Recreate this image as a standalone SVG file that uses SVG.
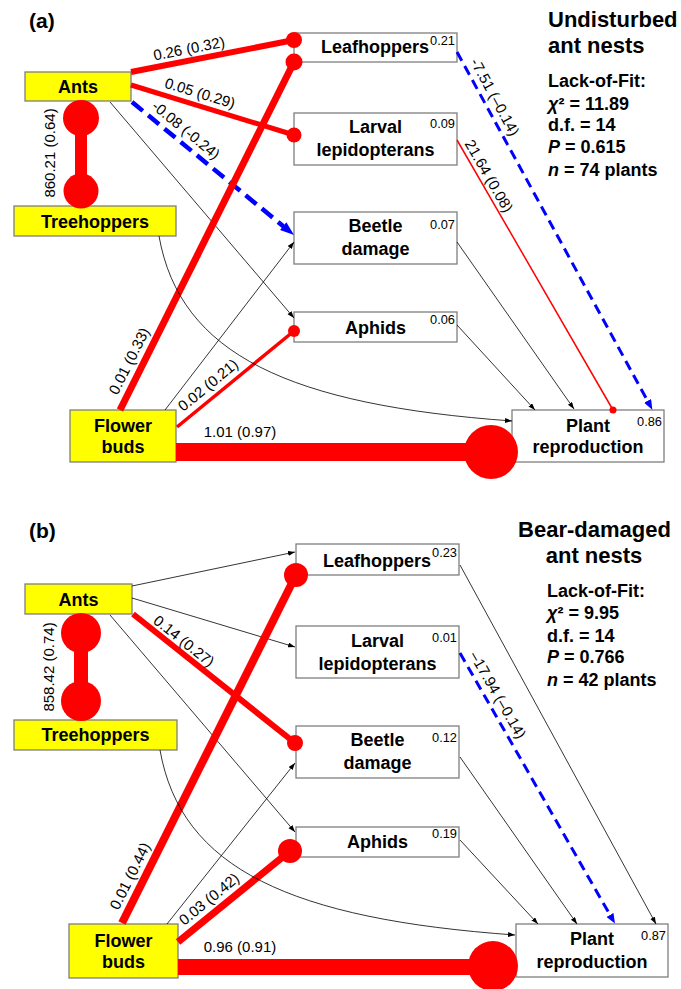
<svg xmlns="http://www.w3.org/2000/svg" width="681" height="989" viewBox="0 0 681 989">
<defs>
<style>
text{font-family:"Liberation Sans",Arial,sans-serif;fill:#000}
.nt{font-size:18px;font-weight:bold;text-anchor:middle}
.r2{font-size:12.8px;text-anchor:end}
.el{font-size:15px;text-anchor:middle}
.ttl{font-size:22px;font-weight:bold}
.fit{font-size:18px;font-weight:bold}
.pl{font-size:21px;font-weight:bold}
.yb{fill:#ffff00;stroke:#7f7f7f;stroke-width:1.3}
.wb{fill:#fff;stroke:#7f7f7f;stroke-width:1.3}
.thin{stroke:#000;stroke-width:0.8;fill:none;marker-end:url(#ab)}
.red{stroke:#ff0000;fill:none}
.dot{fill:#ff0000}
.blue{stroke:#0000ff;fill:none}
</style>
<marker id="ab" markerUnits="userSpaceOnUse" markerWidth="8" markerHeight="6" refX="7" refY="2.5" orient="auto"><path d="M0,0 L7,2.5 L0,5 z" fill="#000"/></marker>
<marker id="bb" markerUnits="userSpaceOnUse" markerWidth="15" markerHeight="11" refX="4" refY="5" orient="auto"><path d="M0,0 L14,5 L0,10 z" fill="#0000ff"/></marker>
<marker id="bs" markerUnits="userSpaceOnUse" markerWidth="12" markerHeight="9" refX="3" refY="4" orient="auto"><path d="M0,0 L10,4 L0,8 z" fill="#0000ff"/></marker>
</defs>
<rect width="681" height="989" fill="#fff"/>

<!-- Panel (a) -->
<text class="pl" x="29" y="28">(a)</text>
<text class="ttl" x="548" y="27">Undisturbed</text>
<text class="ttl" x="548" y="53">ant nests</text>
<text class="fit" x="548" y="87">Lack-of-Fit:</text>
<text class="fit" x="548" y="110"><tspan font-style="italic">χ</tspan>² = 11.89</text>
<text class="fit" x="548" y="131">d.f. = 14</text>
<text class="fit" x="548" y="153"><tspan font-style="italic">P</tspan> = 0.615</text>
<text class="fit" x="548" y="176"><tspan font-style="italic">n</tspan> = 74 plants</text>

<g id="ants_a"><rect class="yb" x="25" y="72" width="106" height="29"/><text class="nt" x="78" y="93">Ants</text></g>
<g id="treehoppers_a"><rect class="yb" x="14" y="206" width="162" height="30"/><text class="nt" x="95" y="228">Treehoppers</text></g>
<g id="flowerbuds_a"><rect class="yb" x="70" y="410" width="106" height="52"/><text class="nt" x="123" y="432">Flower</text><text class="nt" x="123" y="453">buds</text></g>
<g id="leafhoppers_a"><rect class="wb" x="294" y="33" width="163" height="29"/><text class="nt" x="375" y="53">Leafhoppers</text><text class="r2" x="455" y="45">0.21</text></g>
<g id="larval_a"><rect class="wb" x="294" y="113" width="163" height="52"/><text class="nt" x="375.5" y="133">Larval</text><text class="nt" x="375.5" y="156">lepidopterans</text><text class="r2" x="455" y="128">0.09</text></g>
<g id="beetle_a"><rect class="wb" x="294" y="212" width="163" height="52"/><text class="nt" x="375.5" y="232">Beetle</text><text class="nt" x="375.5" y="255">damage</text><text class="r2" x="455" y="229">0.07</text></g>
<g id="aphids_a"><rect class="wb" x="294" y="312" width="163" height="30"/><text class="nt" x="375.5" y="334">Aphids</text><text class="r2" x="455" y="324">0.06</text></g>
<g id="plant_a"><rect class="wb" x="512" y="410" width="152" height="52"/><text class="nt" x="588" y="432">Plant</text><text class="nt" x="588" y="453">reproduction</text><text class="r2" x="662" y="426">0.86</text></g>

<g id="connectors_a">
<line class="red" x1="81" y1="118" x2="81" y2="191" stroke-width="12"/>
<circle class="dot" cx="81" cy="118" r="18"/><circle class="dot" cx="81" cy="191" r="17.5"/>
<line class="red" x1="131" y1="72" x2="294" y2="40" stroke-width="6"/><circle class="dot" cx="294" cy="40" r="8"/>
<line class="red" x1="131" y1="85" x2="294" y2="135" stroke-width="5"/><circle class="dot" cx="294" cy="135" r="7.5"/>
<line class="blue" x1="132" y1="102" x2="286.3" y2="228.7" stroke-width="4.5" stroke-dasharray="14,7" marker-end="url(#bb)"/>
<line class="thin" x1="110" y1="102" x2="294" y2="318"/>
<line class="red" x1="120" y1="410" x2="294" y2="62" stroke-width="7"/><circle class="dot" cx="294" cy="62" r="8.5"/>
<line class="thin" x1="165" y1="410" x2="294" y2="242"/>
<line class="red" x1="177" y1="427" x2="294" y2="331" stroke-width="3.5"/><circle class="dot" cx="294" cy="331" r="6"/>
<line class="red" x1="176" y1="452" x2="491" y2="452" stroke-width="18"/><circle class="dot" cx="491" cy="452" r="27"/>
<path class="thin" d="M159,236 C180,355 290,405 512,421"/>
<line class="blue" x1="457" y1="52" x2="649" y2="403.5" stroke-width="3" stroke-dasharray="10,6" marker-end="url(#bs)"/>
<line class="red" x1="457" y1="140" x2="613" y2="410" stroke-width="1.5"/><circle class="dot" cx="613" cy="410" r="3.5"/>
<line class="thin" x1="457" y1="242" x2="574" y2="409"/>
<line class="thin" x1="457" y1="325" x2="535" y2="410"/>
<text class="el" transform="translate(50,153) rotate(-90)" dy="0.35em">860.21 (0.64)</text>
<text class="el" transform="translate(189,48.5) rotate(-11)" dy="0.35em">0.26 (0.32)</text>
<text class="el" transform="translate(200,93) rotate(17)" dy="0.35em">0.05 (0.29)</text>
<text class="el" transform="translate(186,130) rotate(39.4)" dy="0.35em">-0.08 (-0.24)</text>
<text class="el" transform="translate(129,361) rotate(-63.4)" dy="0.35em">0.01 (0.33)</text>
<text class="el" transform="translate(208,385) rotate(-39.4)" dy="0.35em">0.02 (0.21)</text>
<text class="el" x="240" y="437">1.01 (0.97)</text>
<text class="el" transform="translate(495,97) rotate(61.4)" dy="0.35em">-7.51 (–0.14)</text>
<text class="el" transform="translate(489,176) rotate(60)" dy="0.35em">21.64 (0.08)</text>
</g>

<!-- Panel (b) -->
<text class="pl" x="29" y="538">(b)</text>
<text class="ttl" x="594.5" y="537" text-anchor="middle">Bear-damaged</text>
<text class="ttl" x="594" y="563" text-anchor="middle">ant nests</text>
<text class="fit" x="547" y="597">Lack-of-Fit:</text>
<text class="fit" x="547" y="619"><tspan font-style="italic">χ</tspan>² = 9.95</text>
<text class="fit" x="547" y="642">d.f. = 14</text>
<text class="fit" x="547" y="663"><tspan font-style="italic">P</tspan> = 0.766</text>
<text class="fit" x="547" y="686"><tspan font-style="italic">n</tspan> = 42 plants</text>

<g id="ants_b"><rect class="yb" x="25" y="584" width="107" height="30"/><text class="nt" x="78.5" y="606">Ants</text></g>
<g id="treehoppers_b"><rect class="yb" x="14" y="720" width="163" height="30"/><text class="nt" x="95.5" y="741">Treehoppers</text></g>
<g id="flowerbuds_b"><rect class="yb" x="69" y="924" width="109" height="54"/><text class="nt" x="123.5" y="947">Flower</text><text class="nt" x="123.5" y="968">buds</text></g>
<g id="leafhoppers_b"><rect class="wb" x="296" y="544" width="163" height="31"/><text class="nt" x="377" y="567">Leafhoppers</text><text class="r2" x="457" y="557">0.23</text></g>
<g id="larval_b"><rect class="wb" x="296" y="626" width="163" height="52"/><text class="nt" x="377.5" y="647">Larval</text><text class="nt" x="377.5" y="670">lepidopterans</text><text class="r2" x="457" y="642">0.01</text></g>
<g id="beetle_b"><rect class="wb" x="296" y="726" width="163" height="52"/><text class="nt" x="377.5" y="746">Beetle</text><text class="nt" x="377.5" y="769">damage</text><text class="r2" x="457" y="742">0.12</text></g>
<g id="aphids_b"><rect class="wb" x="296" y="827" width="163" height="30"/><text class="nt" x="377.5" y="848">Aphids</text><text class="r2" x="457" y="838">0.19</text></g>
<g id="plant_b"><rect class="wb" x="516" y="924" width="152" height="53"/><text class="nt" x="592" y="945">Plant</text><text class="nt" x="592" y="968">reproduction</text><text class="r2" x="666" y="940">0.87</text></g>

<g id="connectors_b">
<line class="red" x1="81" y1="633" x2="81" y2="701" stroke-width="14"/>
<circle class="dot" cx="81" cy="633" r="20"/><circle class="dot" cx="81" cy="701" r="20"/>
<line class="thin" x1="132" y1="586" x2="295" y2="552"/>
<line class="thin" x1="132" y1="598" x2="295" y2="647"/>
<line class="red" x1="133" y1="614" x2="295" y2="743" stroke-width="6"/><circle class="dot" cx="295" cy="743" r="8"/>
<line class="thin" x1="110" y1="615" x2="295" y2="832"/>
<line class="red" x1="122" y1="923" x2="296" y2="575" stroke-width="8"/><circle class="dot" cx="296" cy="575" r="12"/>
<line class="thin" x1="167" y1="924" x2="295" y2="763"/>
<line class="red" x1="178" y1="942" x2="290" y2="851" stroke-width="7"/><circle class="dot" cx="290" cy="851" r="12"/>
<line class="red" x1="178" y1="967" x2="493" y2="967" stroke-width="16"/><circle class="dot" cx="493" cy="966" r="25"/>
<path class="thin" d="M160,750 C181,869 291,919 515,935"/>
<line class="thin" x1="460" y1="565" x2="656" y2="924"/>
<line class="blue" x1="460" y1="653" x2="611.5" y2="917.5" stroke-width="3" stroke-dasharray="10,6" marker-end="url(#bs)"/>
<line class="thin" x1="460" y1="757" x2="577" y2="924"/>
<line class="thin" x1="460" y1="840" x2="538" y2="924"/>
<text class="el" transform="translate(49,667) rotate(-90)" dy="0.35em">858.42 (0.74)</text>
<text class="el" transform="translate(184,641) rotate(38.5)" dy="0.35em">0.14 (0.27)</text>
<text class="el" transform="translate(130,876) rotate(-63.6)" dy="0.35em">0.01 (0.44)</text>
<text class="el" transform="translate(209,899) rotate(-39.1)" dy="0.35em">0.03 (0.42)</text>
<text class="el" x="240" y="952">0.96 (0.91)</text>
<text class="el" transform="translate(498,695) rotate(60.2)" dy="0.35em">–17.94 (–0.14)</text>
</g>
</svg>
